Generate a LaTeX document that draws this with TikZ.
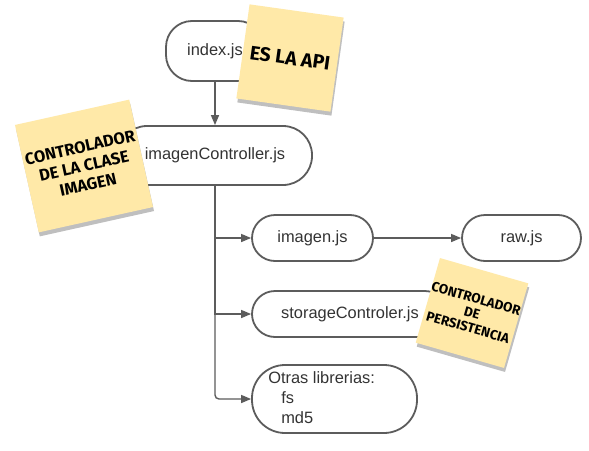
\documentclass[tikz,border=0pt]{standalone}
\usepackage{fontspec}
\setmainfont{Liberation Sans}
\newfontfamily\notefont{Fira Sans}
\usetikzlibrary{arrows.meta,shadows}
\definecolor{boxline}{HTML}{5C5C5C}
\definecolor{boxtext}{HTML}{333333}
\definecolor{notefill}{HTML}{FFE9A8}
\begin{document}
\begin{tikzpicture}[x=1pt,y=-1pt,
  term/.style={draw=boxline,line width=1.8pt,fill=white,rounded corners=#1,
    text=boxtext,font=\fontsize{16.4}{18}\selectfont,inner sep=0pt},
  term/.default=23pt,
  conn/.style={draw=boxline,line width=1.4pt},
  arr/.style={conn,-{Triangle[length=10pt,width=8pt]}},
  note/.style={fill=notefill,inner sep=0pt,align=center,text=black,
    drop shadow={shadow xshift=1pt,shadow yshift=-4pt,opacity=0.25,fill=black}}
]
\useasboundingbox (0,0) rectangle (589,450);
\fill[white] (0,0) rectangle (589,450);

% boxes
\node[term=26pt,minimum width=98pt,minimum height=60pt] (index) at (215,51) {index.js};
\node[term=29pt,minimum width=194pt,minimum height=59pt] (imgc) at (215,155.5) {imagenController.js};
\node[term,minimum width=121pt,minimum height=46pt] (imagen) at (312.5,238) {imagen.js};
\node[term,minimum width=119pt,minimum height=46pt] (raw) at (521.5,238) {raw.js};
\node[term,minimum width=196pt,minimum height=46pt] (storage) at (350,314) {storageControler.js};
\node[term=33pt,minimum width=165pt,minimum height=68pt] (otras) at (334.5,399) {};
\node[anchor=west,align=left,text=boxtext,inner sep=0pt,
  font=\fontsize{16.4}{20}\selectfont] (otrastxt) at ([xshift=17pt,yshift=1pt]otras.west)
  {Otras librerias:\\\hspace*{13pt}fs\\\hspace*{13pt}md5};

% connectors
\draw[arr] (index) -- (imgc);
\draw[arr,rounded corners=4pt] (imgc.south) |- (otras.west);
\draw[arr] (imgc.south) |- (imagen.west);
\draw[arr] (imgc.south) |- (storage.west);
\draw[arr] (imagen) -- (raw);

% sticky notes
\node[note,minimum width=95pt,minimum height=95pt,rotate=-8,
  font=\notefont\bfseries\fontsize{19.5}{22}\selectfont] (n1) at (290,58) {ES LA API};
\node[note,minimum width=117pt,minimum height=110pt,rotate=12.5,
  font=\notefont\bfseries\fontsize{16.5}{19}\selectfont] (n2) at (84,166)
  {CONTROLADOR\\DE LA CLASE\\IMAGEN};
\node[note,minimum width=90pt,minimum height=88pt,rotate=-16,
  font=\notefont\bfseries\fontsize{13.5}{15}\selectfont] (n3) at (472,313)
  {CONTROLADOR\\DE\\PERSISTENCIA};
\end{tikzpicture}
\end{document}
